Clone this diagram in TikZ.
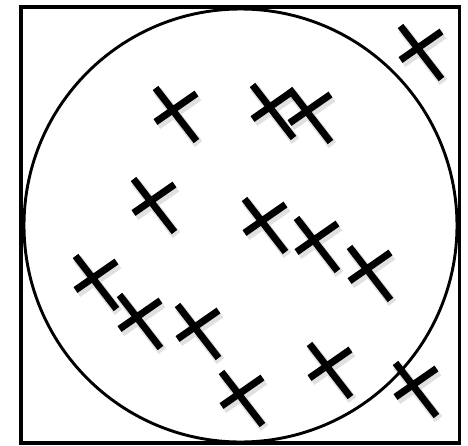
\documentclass[tikz,border=0pt]{standalone}
\usepackage{xcolor}
\usepackage{tikz}
\usetikzlibrary{calc}
\definecolor{ink}{HTML}{000000}
\tikzset{
  frame/.style={draw=ink, line width=1.75pt},
  disc/.style={draw=ink, line width=1.45pt},
  beam/.style={draw=ink, line width=3.5pt},
  beamshade/.style={draw=black, opacity=0.12, line width=4.8pt},
}
% one cross: long beam top-left to bottom-right, short bar across it
\newcommand{\crossbeams}{(-17,-22) -- (24,31) (-17,12) -- (24,-16.5)}
\newcommand{\crosses}[1]{%
  \foreach \cx/\cy in {#1} {%
    \draw[beamshade, shift={(\cx+2,\cy+3)}] \crossbeams;
  }
  \foreach \cx/\cy in {#1} {%
    \draw[beam, shift={(\cx,\cy)}] \crossbeams;
  }}

\begin{document}
\begin{tikzpicture}[x=0.5pt,y=-0.5pt]
  \useasboundingbox (0,0) rectangle (468,446);
  \coordinate (nw) at (20.8,7);
  \coordinate (se) at (459.5,443);
  \coordinate (o) at (240.5,225.5);
  \draw[frame] (nw) rectangle (se);
  \draw[disc] (o) circle[radius=216.5];
  \crosses{417.5/48, 172.5/110, 269.5/107, 306.5/111,
           150.5/201, 261.5/221, 313.5/240, 366.5/269,
           92.5/278, 136.5/317, 194.5/327,
           238.5/394, 326.5/366, 412.5/385}
\end{tikzpicture}
\end{document}
